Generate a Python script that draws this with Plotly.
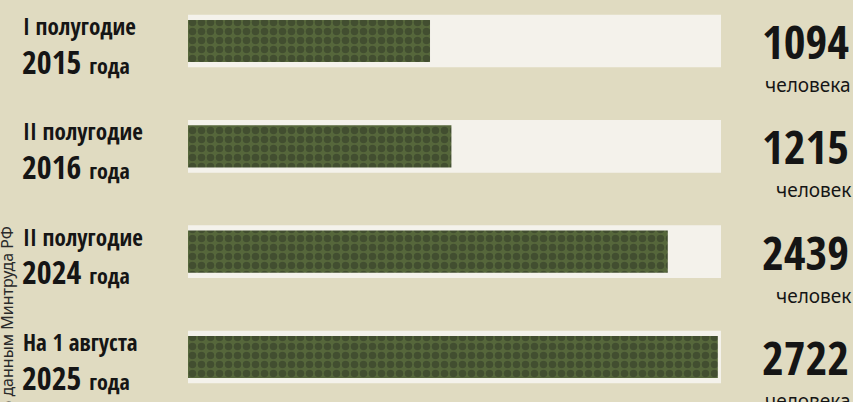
import plotly.graph_objects as go

# ---- data ----
period_line1 = ["I полугодие", "II полугодие", "II полугодие", "На 1 августа"]
period_year = ["2015", "2016", "2024", "2025"]
values = [1094, 1215, 2439, 2722]
units = ["человека", "человек", "человек", "человека"]
source = "По данным Минтруда РФ"
categories = [f"{a} {b} года" for a, b in zip(period_line1, period_year)]

# ---- scale / style ----
W, H = 853, 402
AXIS_MIN, AXIS_MAX = -275, 2740
BG = "#e0dbc1"
TRACK = "#f4f2eb"
CAMO = "#56673b"
CAMO_DARK = "#2e3625"
INK = "#151515"
COND = "Open Sans Condensed, Roboto Condensed, sans-serif"
REG = "Noto Sans, DejaVu Sans, sans-serif"

fig = go.Figure()
fig.add_trace(go.Bar(
    y=categories, x=[AXIS_MAX - AXIS_MIN] * len(categories), base=AXIS_MIN,
    orientation="h", width=0.5, marker=dict(color=TRACK, line=dict(width=0)),
    hoverinfo="skip", showlegend=False,
))
fig.add_trace(go.Bar(
    y=categories, x=[v - AXIS_MIN for v in values], base=AXIS_MIN,
    orientation="h", width=0.4,
    marker=dict(color=CAMO, line=dict(width=0),
                pattern=dict(shape=".", fgcolor=CAMO_DARK, bgcolor=CAMO,
                             size=9, solidity=0.55, fillmode="overlay")),
    showlegend=False,
))

ann = []
for cat, l1, yr, v, u in zip(categories, period_line1, period_year, values, units):
    ann.append(dict(x=21 / W, xref="paper", y=cat, yref="y", xanchor="left", yanchor="middle",
                    yshift=15, text=l1, showarrow=False,
                    font=dict(family=COND, size=23, color=INK, weight="bold")))
    ann.append(dict(x=20 / W, xref="paper", y=cat, yref="y", xanchor="left", yanchor="middle",
                    yshift=-20, showarrow=False,
                    text=f"{yr} <span style='font-size:22px'>года</span>",
                    font=dict(family=COND, size=32, color=INK, weight="bold")))
    ann.append(dict(x=851 / W, xref="paper", y=cat, yref="y", xanchor="right", yanchor="middle",
                    yshift=0, text=f"{v}", showarrow=False,
                    font=dict(family=COND, size=47, color=INK, weight="bold")))
    ann.append(dict(x=853 / W, xref="paper", y=cat, yref="y", xanchor="right", yanchor="middle",
                    yshift=-44, text=u, showarrow=False,
                    font=dict(family=REG, size=19, color=INK)))
ann.append(dict(x=7 / W, xref="paper", y=1 - 224 / H, yref="paper", xanchor="center", yanchor="top",
                text=source, textangle=-90, showarrow=False,
                font=dict(family=REG, size=16, color="#2a2a2a")))

scale = (357 - 41) / 3.0
fig.update_layout(
    width=W, height=H, margin=dict(l=0, r=0, t=0, b=0),
    paper_bgcolor=BG, plot_bgcolor=BG, barmode="overlay",
    xaxis=dict(domain=[188 / W, 721 / W], range=[AXIS_MIN, AXIS_MAX], visible=False, fixedrange=True),
    yaxis=dict(range=[3 + (H - 357) / scale, -41 / scale], visible=False, fixedrange=True,
               categoryorder="array", categoryarray=categories),
    annotations=ann,
)
fig.write_html("out.html", config={"displayModeBar": False},
               post_script="document.body.style.margin='0';")
